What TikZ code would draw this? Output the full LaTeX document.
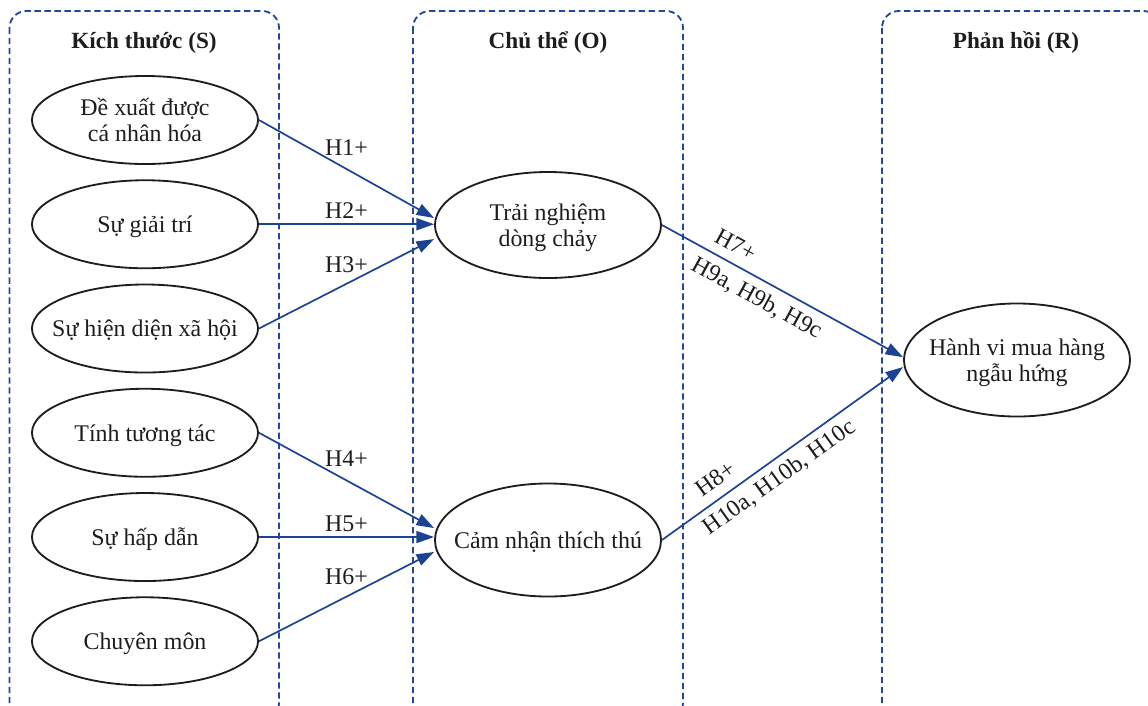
\documentclass[tikz,border=0pt]{standalone}
\usepackage{fontspec}
\setmainfont{Liberation Serif}
\usetikzlibrary{arrows.meta,positioning,shapes.geometric}
\definecolor{linkblue}{RGB}{28,66,148}
\definecolor{boxblue}{RGB}{34,72,152}
\definecolor{inkgray}{RGB}{30,28,28}
\newcommand{\ovaltext}[1]{\raisebox{-6.5pt}[0pt][0pt]{\makebox[0pt][c]{\begin{tabular}{@{}c@{}}#1\end{tabular}}}}
\tikzset{
  construct/.style={ellipse,draw=inkgray,line width=1.3pt,minimum width=5.65cm,minimum height=2.2cm,inner sep=0pt,text=inkgray},
  groupbox/.style={draw=boxblue,line width=1.3pt,dash pattern=on 4.5pt off 2.6pt,rounded corners=12pt},
  grouptitle/.style={font=\fontsize{16.5}{19}\selectfont\bfseries,text=inkgray},
  hyp/.style={text=inkgray,inner sep=2pt},
  link/.style={draw=linkblue,line width=1.2pt,-{Triangle[length=12.5pt,width=8.5pt]}}
}

\begin{document}
\begin{tikzpicture}[
    x=0.025cm, y=-0.025cm,
    node distance=0.36cm,
    font=\fontsize{17}{19}\selectfont
]
\useasboundingbox (0,0) rectangle (1148,705);
\clip (0,0) rectangle (1148,705);

% =========================================================
% Groups
% =========================================================

\draw[groupbox] (9.5,11) rectangle (279,720);
\draw[groupbox] (413,11) rectangle (683,720);
\draw[groupbox] (882,11) rectangle (1160,720);

\node[grouptitle] (tS) at (144,43) {Kích thước (S)};
\node[grouptitle] (tO) at (548,43) {Chủ thể (O)};
\node[grouptitle] (tR) at (1016,43) {Phản hồi (R)};

% =========================================================
% Stimuli
% =========================================================

\node[construct] (dexuat) at (145,120) {\ovaltext{Đề xuất được\\cá nhân hóa}};
\node[construct,below=of dexuat] (giaitri) {\ovaltext{Sự giải trí}};
\node[construct,below=of giaitri] (hiendien) {\ovaltext{Sự hiện diện xã hội}};
\node[construct,below=of hiendien] (tuongtac) {\ovaltext{Tính tương tác}};
\node[construct,below=of tuongtac] (hapdan) {\ovaltext{Sự hấp dẫn}};
\node[construct,below=of hapdan] (chuyenmon) {\ovaltext{Chuyên môn}};

% =========================================================
% Organism and response
% =========================================================

\node[construct,minimum height=2.65cm] (trainghiem) at (548,225) {\ovaltext{Trải nghiệm\\dòng chảy}};
\node[construct,minimum height=2.825cm] (thichthu) at (548,540) {\ovaltext{Cảm nhận thích thú}};
\node[construct,minimum height=2.825cm] (hanhvi) at (1017,360) {\ovaltext{Hành vi mua hàng\\ngẫu hứng}};

% =========================================================
% Hypotheses
% =========================================================

\draw[link] (dexuat.east) -- ([yshift=5pt]trainghiem.west)
  node[hyp,midway,above=7pt] {H1+};
\draw[link] (giaitri.east) -- (giaitri.east -| trainghiem.west)
  node[hyp,midway,above=1.5pt] {H2+};
\draw[link] (hiendien.east) -- ([yshift=-10pt]trainghiem.west)
  node[hyp,midway,above=5.3pt] {H3+};

\draw[link] (tuongtac.east) -- ([yshift=8.5pt]thichthu.west)
  node[hyp,midway,above=7.5pt] {H4+};
\draw[link] (hapdan.east) -- (hapdan.east -| thichthu.west)
  node[hyp,midway,above=1.5pt] {H5+};
\draw[link] (chuyenmon.east) -- ([yshift=-8.5pt]thichthu.west)
  node[hyp,midway,above=5.7pt] {H6+};

\draw[link] (trainghiem.east) -- ([yshift=2pt]hanhvi.west)
  node[hyp,pos=0.27,sloped,above=4.5pt] {H7+}
  node[hyp,pos=0.43,sloped,below=3.7pt] {H9a, H9b, H9c};
\draw[link] (thichthu.east) -- ([yshift=-5pt]hanhvi.west)
  node[hyp,pos=0.266,sloped,above=5pt] {H8+}
  node[hyp,pos=0.445,sloped,below=2.8pt] {H10a, H10b, H10c};

\end{tikzpicture}
\end{document}
